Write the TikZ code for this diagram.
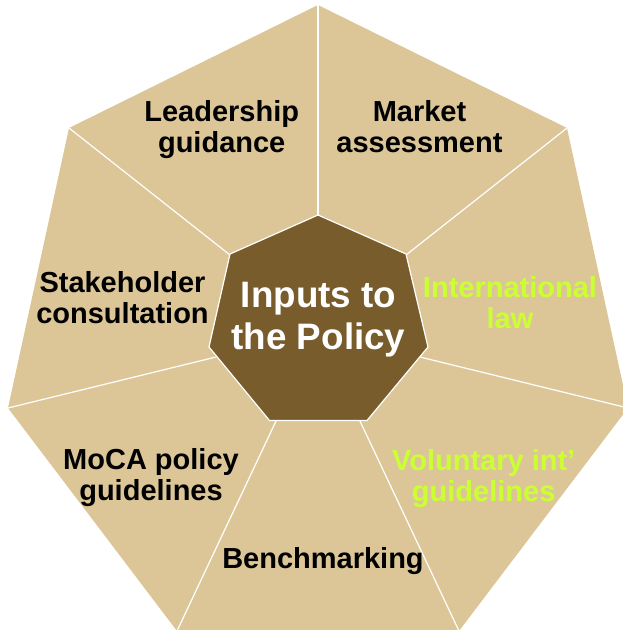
\documentclass[tikz,border=0pt]{standalone}
\usepackage{fontspec}
\setmainfont{Liberation Sans}
\definecolor{tanfill}{RGB}{220,198,152}
\definecolor{corefill}{RGB}{120,92,43}
\definecolor{limetext}{RGB}{204,255,51}
\begin{document}
\begin{tikzpicture}[x=1pt,y=-1pt,
  lbl/.style={font=\fontsize{29}{31}\selectfont\bfseries, align=center, inner sep=0pt, anchor=base, text=black},
  corelbl/.style={font=\fontsize{36.8}{41.6}\selectfont\bfseries, align=center, inner sep=0pt, anchor=base, text=white},
  divider/.style={draw=white, line width=1.2pt}]
\useasboundingbox (0,0) rectangle (623,630);
\clip (0,0) rectangle (623,630);
% outer heptagon vertices
\coordinate (o1) at (318,5);
\coordinate (o2) at (567,128);
\coordinate (o3) at (628,408);
\coordinate (o4) at (459,631);
\coordinate (o5) at (177,631);
\coordinate (o6) at (8,408);
\coordinate (o7) at (69,128);
% inner heptagon vertices
\coordinate (i1) at (318,215);
\coordinate (i2) at (406,254);
\coordinate (i3) at (428,347);
\coordinate (i4) at (367,420.5);
\coordinate (i5) at (269.5,420.5);
\coordinate (i6) at (209,347);
\coordinate (i7) at (230,254);
% divider inner ends
\coordinate (d1) at (318,215);
\coordinate (d2) at (406,255);
\coordinate (d3) at (420,357);
\coordinate (d4) at (359.5,420);
\coordinate (d5) at (276.5,420);
\coordinate (d6) at (216,357);
\coordinate (d7) at (230,255);
\fill[tanfill] (o1)--(o2)--(o3)--(o4)--(o5)--(o6)--(o7)--cycle;
\foreach \k in {1,...,7} \draw[divider] (o\k)--(d\k);
\filldraw[fill=corefill, draw=white, line width=1.2pt] (i1)--(i2)--(i3)--(i4)--(i5)--(i6)--(i7)--cycle;
\node[corelbl] (core) at (318.5,349) {Inputs to\\the Policy};
\node[lbl] (lead) at (221.7,152) {Leadership\\guidance};
\node[lbl] (market) at (419.5,152) {Market\\assessment};
\node[lbl] (stake) at (122.5,323) {Stakeholder\\consultation};
\node[lbl, text=limetext] (intl) at (510,328.5) {International\\law};
\node[lbl] (moca) at (151,500.5) {MoCA policy\\guidelines};
\node[lbl, text=limetext] (vol) at (483.7,501.5) {Voluntary int’\\guidelines};
\node[lbl] (bench) at (323,568) {Benchmarking};
\end{tikzpicture}
\end{document}
